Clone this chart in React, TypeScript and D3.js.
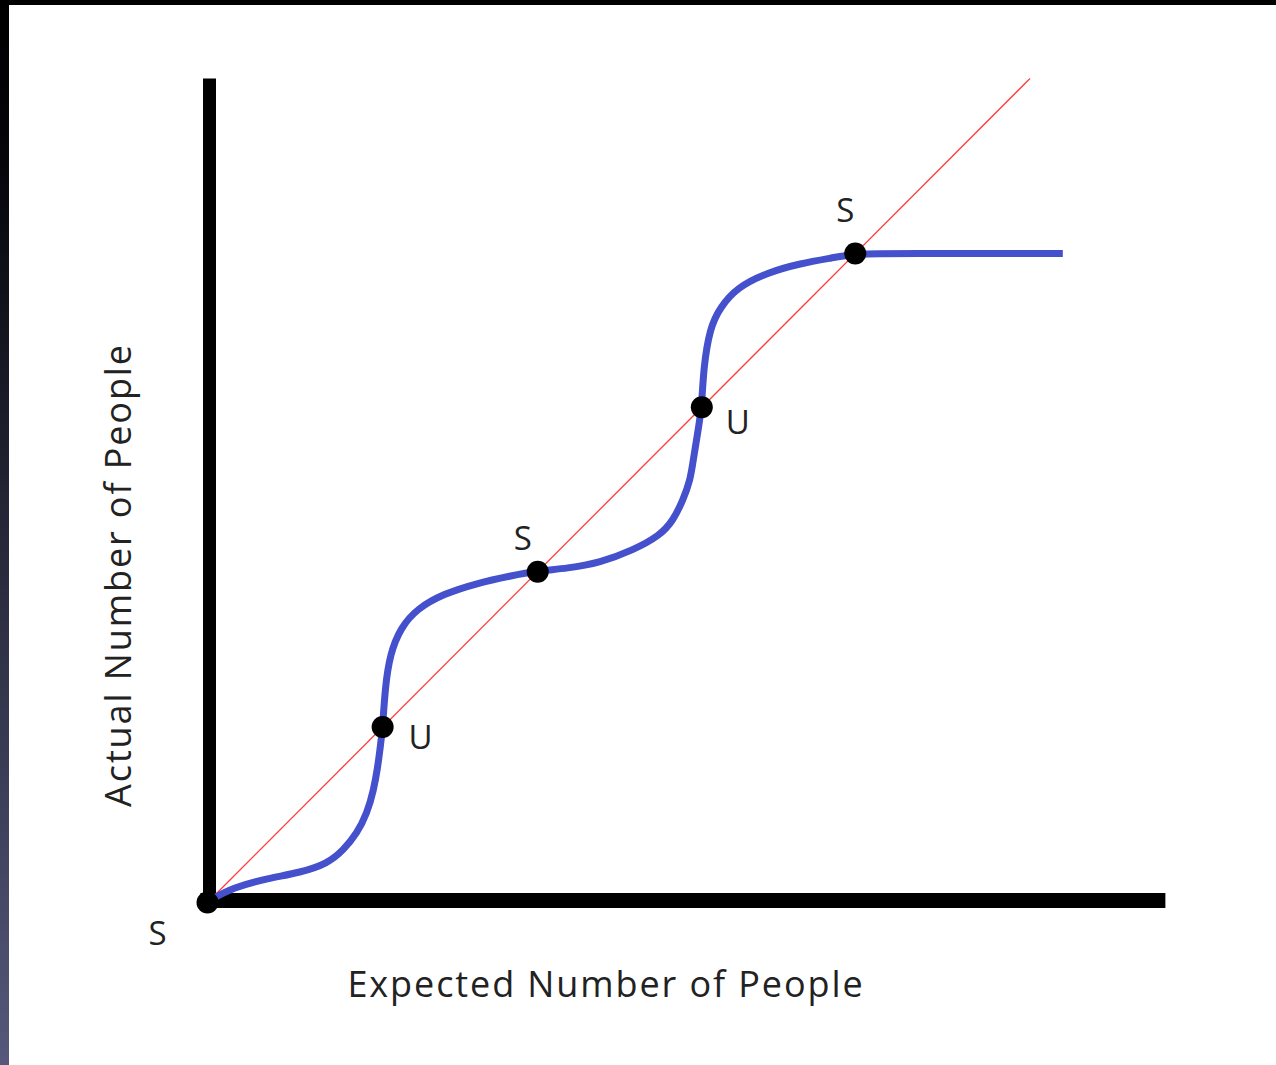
import React, { useEffect, useRef } from "react";
import * as d3 from "d3";

// curve: expected (x) vs actual (y)
const curveX = [0, 0, 2.9, 7.1, 11.1, 14.4, 16.3, 18.0, 19.2, 20.0, 20.5, 20.8, 21.1, 21.4, 22.0, 23.3, 25.3, 28.5, 32.6, 36.7, 40.0, 43.6, 47.6, 51.6, 54.9, 56.5, 57.7, 58.6, 59.0, 59.5, 60.0, 60.2, 61.0, 62.2, 64.3, 68.0, 72.0, 76.0, 78.7, 84.2, 104, 104];
const curveY = [0, 0, 1.6, 2.7, 3.4, 4.5, 6.1, 8.2, 10.6, 13.4, 16.2, 18.6, 20.9, 25.9, 30.0, 33.2, 35.5, 37.3, 38.6, 39.5, 40.1, 40.4, 41.1, 42.6, 44.4, 46.2, 48.7, 51.1, 53.9, 56.9, 60.0, 64.8, 69.7, 72.1, 74.6, 76.4, 77.5, 78.2, 78.7, 78.7, 78.7, 78.7];

// equilibria where the curve crosses the 45 degree line
const eqX = [0, 21.1, 40.0, 60.0, 78.7];
const eqLabels = ["S", "U", "S", "U", "S"];

const diagonal = [0, 100];
const xMax = 116.5;
const yMax = 100;

const xTitle = "Expected Number of People";
const yTitle = "Actual Number of People";

// label offsets (px) from each dot
const labelDx = [-50, 38, -15, 36, -10];
const labelDy = [42, 22, -22, 27, -32];

const FONT = "'Open Sans', sans-serif";

export default function App() {
  const ref = useRef<SVGSVGElement>(null);

  useEffect(() => {
    const W = 1276;
    const H = 1065;
    const svg = d3.select(ref.current);
    svg.selectAll("*").remove();
    svg.attr("width", W).attr("height", H);

    const x = d3.scaleLinear().domain([0, 100]).range([209.5, 1030]);
    const y = d3.scaleLinear().domain([0, 100]).range([900.5, 78.5]);

    // frame: black top strip, left strip fading to slate
    const defs = svg.append("defs");
    const grad = defs
      .append("linearGradient")
      .attr("id", "edge")
      .attr("x1", 0)
      .attr("y1", 0)
      .attr("x2", 0)
      .attr("y2", 1);
    grad.append("stop").attr("offset", "0%").attr("stop-color", "#000000");
    grad.append("stop").attr("offset", "15%").attr("stop-color", "#05050a");
    grad.append("stop").attr("offset", "100%").attr("stop-color", "#55587a");

    svg.append("rect").attr("width", W).attr("height", H).attr("fill", "#fff");
    svg.append("rect").attr("x", 0).attr("y", 0).attr("width", 9).attr("height", H).attr("fill", "url(#edge)");
    svg.append("rect").attr("x", 0).attr("y", 0).attr("width", W).attr("height", 5).attr("fill", "#000");

    // axes
    svg
      .append("line")
      .attr("x1", x(0))
      .attr("x2", x(0))
      .attr("y1", y(yMax))
      .attr("y2", y(0) + 7)
      .attr("stroke", "#000")
      .attr("stroke-width", 13);
    svg
      .append("line")
      .attr("x1", x(0) - 9)
      .attr("x2", x(xMax))
      .attr("y1", y(0))
      .attr("y2", y(0))
      .attr("stroke", "#000")
      .attr("stroke-width", 15);

    // 45 degree line
    svg
      .append("line")
      .attr("x1", x(diagonal[0]))
      .attr("y1", y(diagonal[0]))
      .attr("x2", x(diagonal[1]))
      .attr("y2", y(diagonal[1]))
      .attr("stroke", "#ff3b3b")
      .attr("stroke-width", 1.3);

    // actual vs expected curve (basis spline smooths the traced points)
    const pts = curveX.map((v, i) => [v, curveY[i]] as [number, number]);
    const line = d3
      .line<[number, number]>()
      .x((d) => x(d[0]))
      .y((d) => y(d[1]))
      .curve(d3.curveBasis);
    svg
      .append("path")
      .attr("d", line(pts))
      .attr("fill", "none")
      .attr("stroke", "#4450cc")
      .attr("stroke-width", 7)
      .attr("stroke-linecap", "butt");

    // equilibrium dots + labels
    eqX.forEach((v, i) => {
      const cx = x(v) - (i === 0 ? 2 : 0);
      const cy = y(v) + (i === 0 ? 2 : 0);
      svg.append("circle").attr("cx", cx).attr("cy", cy).attr("r", 11).attr("fill", "#000");
      svg
        .append("text")
        .attr("x", cx + labelDx[i])
        .attr("y", cy + labelDy[i])
        .attr("text-anchor", "middle")
        .attr("font-family", FONT)
        .attr("font-size", 33)
        .attr("fill", "#222")
        .text(eqLabels[i]);
    });

    // titles
    svg
      .append("text")
      .attr("x", 606)
      .attr("y", 997)
      .attr("text-anchor", "middle")
      .attr("font-family", FONT)
      .attr("font-size", 36)
      .attr("letter-spacing", 1.9)
      .attr("fill", "#222")
      .text(xTitle);
    svg
      .append("text")
      .attr("transform", "translate(131,575) rotate(-90)")
      .attr("text-anchor", "middle")
      .attr("font-family", FONT)
      .attr("font-size", 36)
      .attr("letter-spacing", 1.9)
      .attr("fill", "#222")
      .text(yTitle);
  }, []);

  return <svg ref={ref} style={{ position: "absolute", left: 0, top: 0, display: "block" }} />;
}
